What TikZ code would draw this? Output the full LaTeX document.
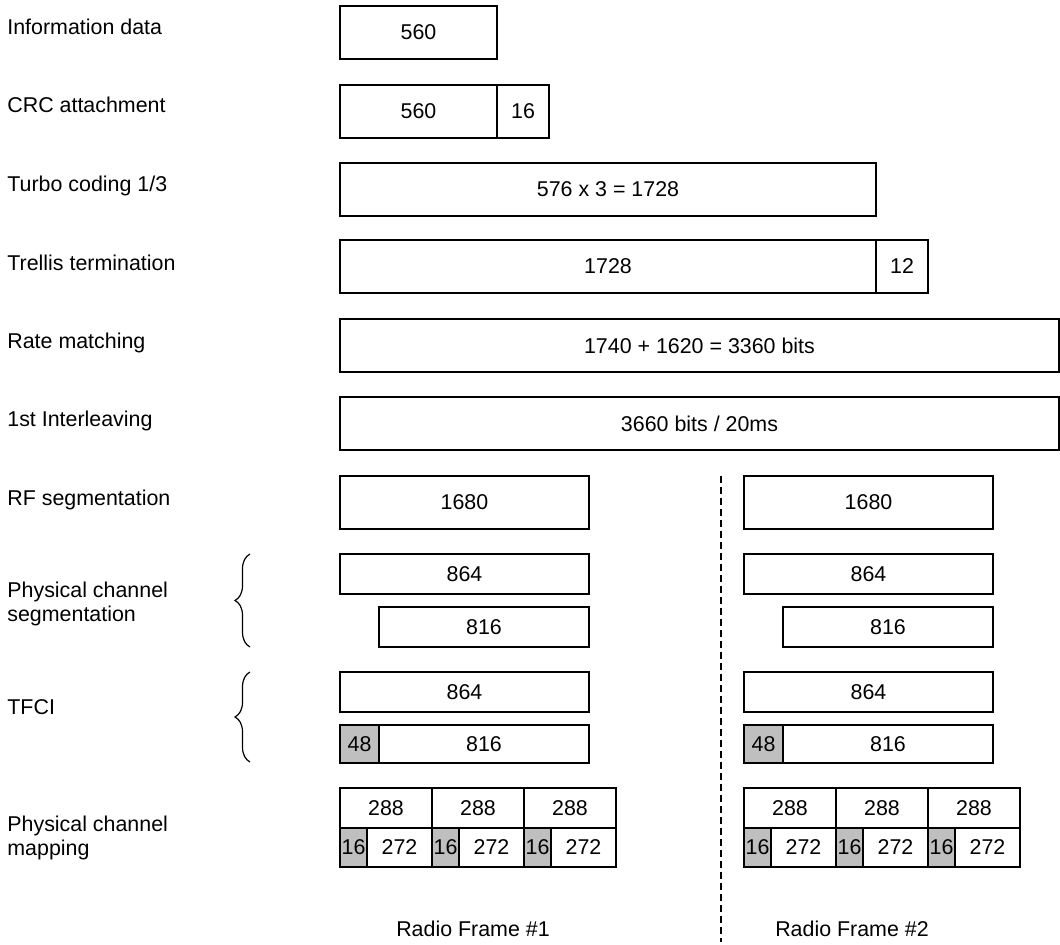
\documentclass[tikz,border=0pt]{standalone}
\usepackage{fontspec}
\setmainfont{Liberation Sans}
\usetikzlibrary{positioning, decorations.pathreplacing}

\begin{document}
\begin{tikzpicture}[
  x=0.5pt, y=-0.5pt,
  every node/.style={font=\fontsize{10.7}{12}\selectfont},
  blk/.style={draw, line width=0.6pt, inner sep=0pt, outer sep=0pt,
              anchor=north west, minimum height=26.5pt, fill=white},
  slim/.style={minimum height=20pt},
  grayblk/.style={fill=black!25},
  lbl/.style={anchor=base west, inner sep=0pt, align=left},
  framesep/.style={line width=0.6pt, dash pattern=on 3.5pt off 2pt},
  brc/.style={decorate, decoration={brace, amplitude=7.5pt}, line width=0.6pt},
]

% === Page ===
\fill[white] (0,0) rectangle (1060,945);
\useasboundingbox (0,0) rectangle (1060,945);

% === Step labels (left column) ===
\node[lbl] (lInfo) at (7,35) {Information data};
\node[lbl] (lCrc) at (7,113) {CRC attachment};
\node[lbl] (lTurbo) at (7,192) {Turbo coding 1/3};
\node[lbl] (lTrellis) at (7,271) {Trellis termination};
\node[lbl] (lRate) at (7,349) {Rate matching};
\node[lbl] (lInter) at (7,427) {1st Interleaving};
\node[lbl] (lRf) at (7,506) {RF segmentation};
\node[lbl, anchor=west] (lSeg) at (7,604) {Physical channel\\segmentation};
\node[lbl] (lTfci) at (7,715) {TFCI};
\node[lbl, anchor=west] (lMap) at (7,838) {Physical channel\\mapping};

% === Common blocks (one per TTI) ===
\node[blk, minimum width=78.5pt] (info) at (340,6) {560};
\node[blk, minimum width=78.5pt] (crc) at (340,85) {560};
\node[blk, minimum width=26pt, right=0pt of crc] (crcTail) {16};
\node[blk, minimum width=268pt] (turbo) at (340,163) {576 x 3 = 1728};
\node[blk, minimum width=268pt] (trellis) at (340,240) {1728};
\node[blk, minimum width=26pt, right=0pt of trellis] (trellisTail) {12};
\node[blk, minimum width=359.5pt] (rate) at (340,319) {1740 + 1620 = 3360 bits};
\node[blk, minimum width=359.5pt] (inter) at (340,397) {3660 bits / 20ms};

% === Per radio frame blocks ===
\foreach \f/\dx in {1/0, 2/404} {
  \node[blk, minimum width=124.5pt] (rf\f) at ({340+\dx},476) {1680};
  % physical channel segmentation
  \node[blk, slim, minimum width=124.5pt] (segA\f) at ({340+\dx},554) {864};
  \node[blk, slim, minimum width=105pt] (segB\f) at ({379+\dx},607) {816};
  % TFCI
  \node[blk, slim, minimum width=124.5pt] (tfciA\f) at ({340+\dx},672) {864};
  \node[blk, grayblk, minimum height=19pt, minimum width=19.5pt] (tfciP\f) at ({340+\dx},725) {48};
  \node[blk, minimum height=19pt, minimum width=105pt, right=0pt of tfciP\f] (tfciB\f) {816};
  % physical channel mapping (3 slots)
  \foreach \s in {0,1,2} {
    \node[blk, slim, minimum width=46pt] (map\f\s) at ({340+\dx+92*\s},788) {288};
    \node[blk, grayblk, minimum height=19.5pt, minimum width=13.5pt] (mapP\f\s) at ({340+\dx+92*\s},828) {16};
    \node[blk, minimum height=19.5pt, minimum width=32.5pt, right=0pt of mapP\f\s] (mapD\f\s) {272};
  }
}

% === Braces ===
\draw[brc] (250,647) -- (250,554);
\draw[brc] (250,762) -- (250,672);

% === Radio frame separator ===
\coordinate (sepTop) at (721,476);
\coordinate (sepBot) at (721,942);
\draw[framesep] (sepTop) -- (sepBot);

\node[anchor=base] (rfName1) at (473,936) {Radio Frame \#1};
\node[anchor=base] (rfName2) at (852,936) {Radio Frame \#2};

\end{tikzpicture}
\end{document}
